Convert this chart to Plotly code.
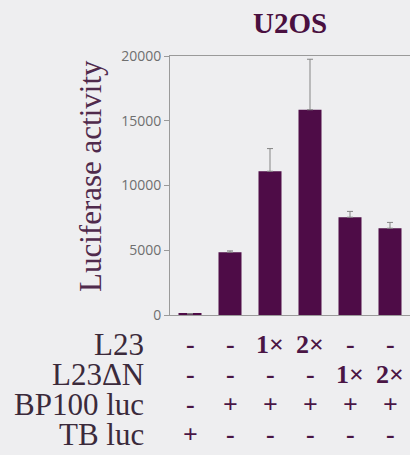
import plotly.graph_objects as go

# Luciferase reporter assay in U2OS cells
conditions = ["c1", "c2", "c3", "c4", "c5", "c6"]
activity = [80, 4850, 11100, 15850, 7550, 6700]
activity_err = [30, 100, 1750, 3900, 450, 450]

y_ticks = [0, 5000, 10000, 15000, 20000]
y_tick_text = ["0", "5000", "10000", "15000", "20000"]

# Transfection scheme shown under the bars
row_labels = ["L23", "L23\u0394N", "BP100 luc", "TB luc"]
row_values = [
    ["-", "-", "1\u00d7", "2\u00d7", "-", "-"],
    ["-", "-", "-", "-", "1\u00d7", "2\u00d7"],
    ["-", "+", "+", "+", "+", "+"],
    ["+", "-", "-", "-", "-", "-"],
]

BAR = "#4e0c47"
INK = "#4a1545"
LABEL = "#3b2a3b"
TICK = "#6f6f6f"
LINE = "#9a9a9a"
BG = "#eeeef0"

fig = go.Figure()
fig.add_trace(go.Bar(
    x=list(range(len(conditions))),
    y=activity,
    width=0.575,
    marker=dict(color=BAR, line=dict(width=0)),
    error_y=dict(type="data", array=activity_err, arrayminus=[0] * len(activity),
                 symmetric=False, color="#858585", thickness=1, width=3),
))

plot_top, plot_bottom = 56, 315
plot_h = plot_bottom - plot_top
plot_left, plot_w = 170, 240

def py(pix):
    return (plot_bottom - pix) / plot_h

def px(pix):
    return (pix - plot_left) / plot_w

serif = "Liberation Serif"
annotations = []

# table rows
row_centers = [344, 374, 404, 434]
for label, vals, yc in zip(row_labels, row_values, row_centers):
    annotations.append(dict(
        text=label, xref="paper", yref="paper", x=px(146), y=py(yc),
        xanchor="right", yanchor="middle", showarrow=False,
        font=dict(family=serif, size=31, color=LABEL)))
    for i, v in enumerate(vals):
        annotations.append(dict(
            text="<b>%s</b>" % v, xref="x", yref="paper", x=i, y=py(yc),
            xanchor="center", yanchor="middle", showarrow=False,
            font=dict(family=serif, size=26, color=INK)))

# y-axis title
annotations.append(dict(
    text="Luciferase activity", xref="paper", yref="paper", x=px(90), y=py(176),
    xanchor="center", yanchor="middle", textangle=-90, showarrow=False,
    font=dict(family=serif, size=31, color="#502a4c")))

# panel title
annotations.append(dict(
    text="<b>U2OS</b>", xref="paper", yref="paper", x=0.5, y=py(23),
    xanchor="center", yanchor="middle", showarrow=False,
    font=dict(family=serif, size=29, color="#4a1040")))

fig.update_layout(
    width=410, height=455,
    margin=dict(l=plot_left, r=0, t=plot_top, b=455 - plot_bottom),
    paper_bgcolor=BG, plot_bgcolor=BG,
    showlegend=False,
    annotations=annotations,
    xaxis=dict(range=[-0.5, 5.5], showticklabels=False, ticks="",
               showgrid=False, zeroline=False, showline=True, mirror=True,
               linecolor=LINE, linewidth=1),
    yaxis=dict(range=[0, 20000], tickvals=y_ticks, ticktext=y_tick_text,
               ticks="outside", ticklen=5,
               tickcolor=LINE, tickwidth=1, showgrid=False, zeroline=False,
               showline=True, linecolor=LINE, linewidth=1,
               tickfont=dict(family="Open Sans", size=14, color=TICK)),
)

fig.write_html("out.html")
